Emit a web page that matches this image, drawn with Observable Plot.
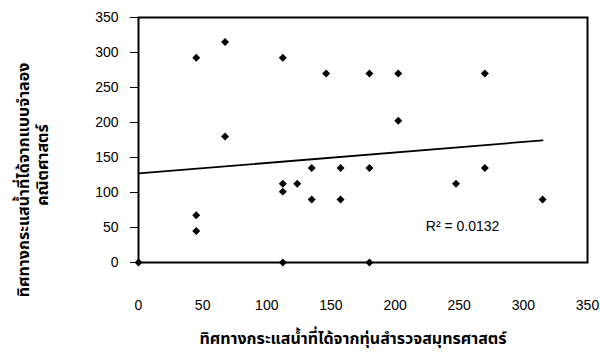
<!DOCTYPE html>
<html><head><meta charset="utf-8">
<script src="https://cdn.jsdelivr.net/npm/d3@7"></script>
<script src="https://cdn.jsdelivr.net/npm/@observablehq/plot@0.6"></script>
<style>body{margin:0;background:#fff}</style>
</head><body><div id="chart"></div>
<script>
// observed (buoy) direction vs model direction, degrees
const xObserved = [0, 45, 45, 45, 67.5, 67.5, 112.5, 112.5, 112.5, 112.5, 123.75, 146.25, 135, 135, 157.5, 157.5, 180, 180, 180, 202.5, 202.5, 247.5, 270, 270, 315];
const yModel    = [0, 292.5, 67.5, 45, 315, 180, 292.5, 112.5, 101.25, 0, 112.5, 270, 135, 90, 135, 90, 270, 135, 0, 270, 202.5, 112.5, 270, 135, 90];
const xTicks = [0, 50, 100, 150, 200, 250, 300, 350];
const yTicks = [0, 50, 100, 150, 200, 250, 300, 350];
const xTitle = "ทิศทางกระแสน้ำที่ได้จากทุ่นสำรวจสมุทรศาสตร์";
const yTitle1 = "ทิศทางกระแสน้ำที่ได้จากแบบจำลอง";
const yTitle2 = "คณิตศาสตร์";
const r2Text = ["R² = 0.0132"];
const r2Pos = {x: 224, y: 51};

const data = xObserved.map((x, i) => ({x, y: yModel[i]}));
const thai = "'Noto Sans Thai', 'Noto Sans', 'DejaVu Sans', sans-serif";

const chart = Plot.plot({
  width: 600, height: 357,
  marginLeft: 138, marginRight: 13, marginTop: 17, marginBottom: 95,
  style: {fontFamily: "'Liberation Sans', Arial, sans-serif", fontSize: "14px", color: "#000", background: "#fff"},
  x: {domain: [0, 350], ticks: xTicks, tickSize: 0, tickPadding: 38, label: null},
  y: {domain: [0, 350], ticks: yTicks, tickSize: 8, tickPadding: 12, label: null},
  marks: [
    Plot.frame({stroke: "#000", strokeWidth: 2}),
    Plot.linearRegressionY(data, {x: "x", y: "y", ci: 0, stroke: "#000", strokeWidth: 1.8}),
    Plot.dot(data, {x: "x", y: "y", symbol: "diamond2", r: 3.6, fill: "#000", stroke: null}),
    Plot.text(r2Text, {x: () => r2Pos.x, y: () => r2Pos.y, textAnchor: "start", fontSize: 14}),
    Plot.text([xTitle], {frameAnchor: "bottom", textAnchor: "middle", dx: -10, dy: 81, fontFamily: thai, fontWeight: "bold", fontSize: 16}),
    Plot.text([yTitle1], {frameAnchor: "left", textAnchor: "middle", dx: -115, dy: 40, rotate: -90, fontFamily: thai, fontWeight: "bold", fontSize: 16}),
    Plot.text([yTitle2], {frameAnchor: "left", textAnchor: "middle", dx: -96, dy: 25, rotate: -90, fontFamily: thai, fontWeight: "bold", fontSize: 16})
  ]
});
document.getElementById("chart").append(chart);
</script>
</body></html>
